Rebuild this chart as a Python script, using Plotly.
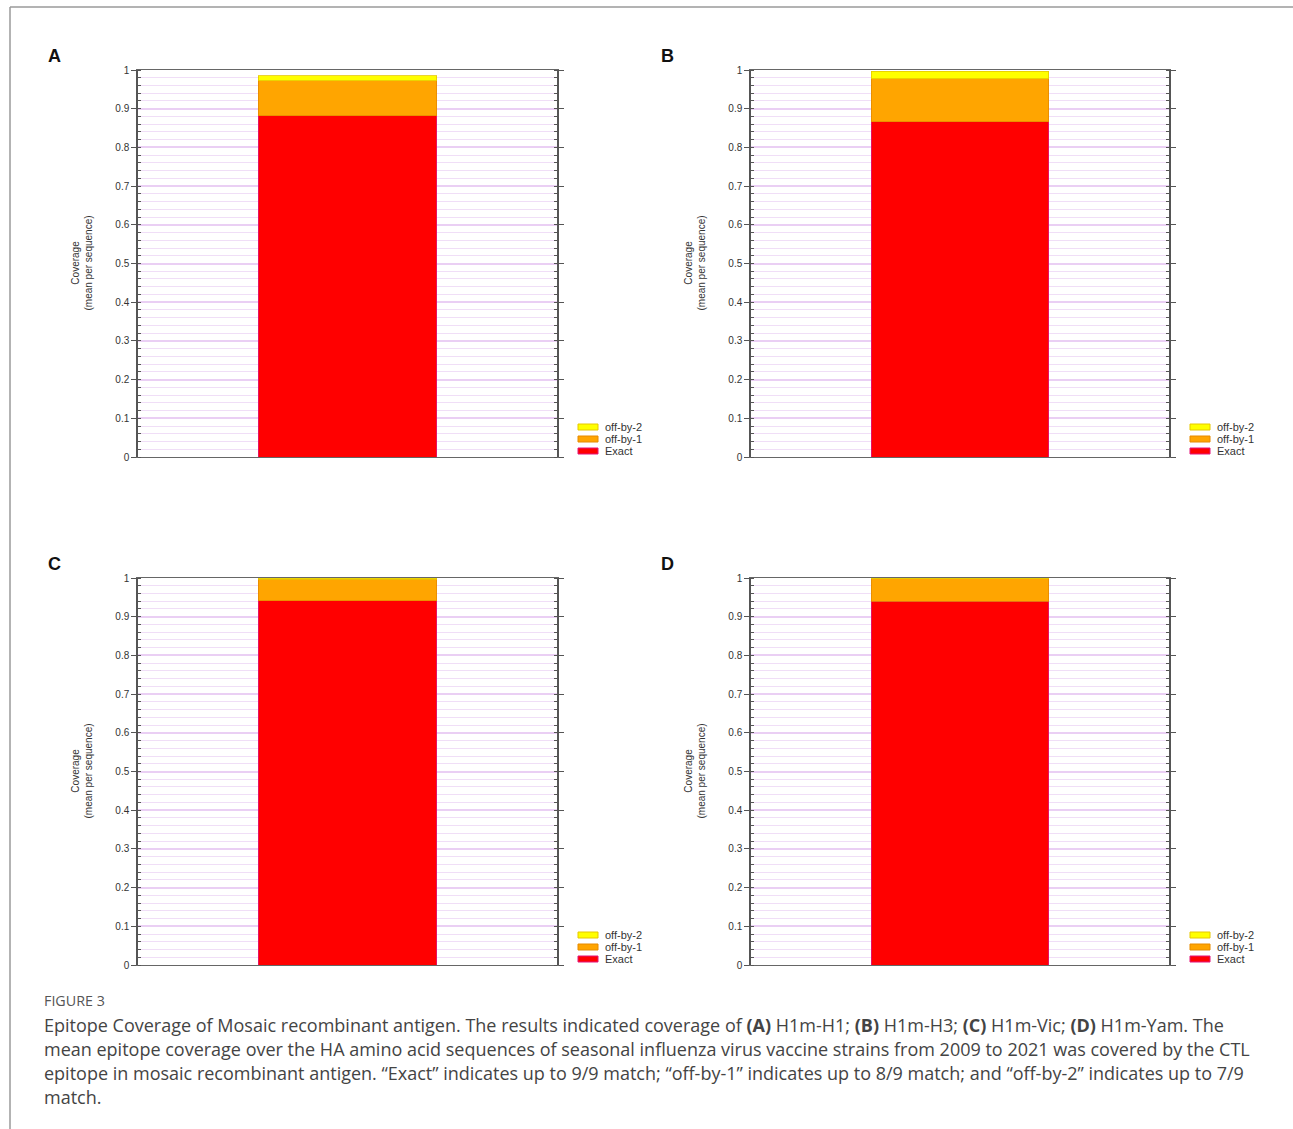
import plotly.graph_objects as go

W, H = 1293, 1129

panels = ["A", "B", "C", "D"]
exact = [0.882, 0.866, 0.941, 0.940]
off_by_1 = [0.090, 0.112, 0.056, 0.058]
off_by_2 = [0.013, 0.019, 0.003, 0.002]
series_names = ["Exact", "off-by-1", "off-by-2"]
series_colors = ["#ff0000", "#ffa500", "#ffff00"]
series_edges = ["#e2157a", "#e68a00", "#e6c800"]
y_ticks = [0, 0.1, 0.2, 0.3, 0.4, 0.5, 0.6, 0.7, 0.8, 0.9, 1]
y_ticklabels = ["0", "0.1", "0.2", "0.3", "0.4", "0.5", "0.6", "0.7", "0.8", "0.9", "1"]

# pixel layout of plot areas (left, right, top, bottom)
px_boxes = [(138, 557, 70, 457), (751, 1169, 70, 457),
            (138, 557, 578, 965), (751, 1169, 578, 965)]

def px(x):
    return x / W

def py(y):
    return 1 - y / H

fig = go.Figure()
layout = dict(width=W, height=H, autosize=False, margin=dict(l=0, r=0, t=0, b=0, pad=0, autoexpand=False),
              paper_bgcolor="white", plot_bgcolor="white", barmode="stack",
              showlegend=False, font=dict(family="Liberation Sans, Arial", color="#333"))
annotations = []
shapes = []

for i, p in enumerate(panels):
    l, r, t, b = px_boxes[i]
    xa = "x" if i == 0 else f"x{i+1}"
    ya = "y" if i == 0 else f"y{i+1}"
    vals = [exact[i], off_by_1[i], off_by_2[i]]
    for name, v, c, e in zip(series_names, vals, series_colors, series_edges):
        fig.add_trace(go.Bar(x=[0.5], y=[v], width=0.425, name=name,
                             marker=dict(color=c, line=dict(color=e, width=0.8)),
                             xaxis=xa, yaxis=ya, showlegend=False))
    key = "" if i == 0 else str(i + 1)
    layout["xaxis" + key] = dict(domain=[px(l), px(r)], range=[0, 1], anchor=ya,
                                 automargin=False,
                                 showgrid=False, zeroline=False, showticklabels=False,
                                 ticks="", showline=True, linecolor="#666", linewidth=1.2,
                                 mirror=True)
    layout["yaxis" + key] = dict(domain=[py(b), py(t)], range=[0, 1], anchor=xa,
                                 automargin=False,
                                 tickvals=y_ticks, ticktext=y_ticklabels,
                                 tickfont=dict(size=10, color="#333"),
                                 ticks="outside", ticklen=5, tickcolor="#555", tickwidth=1,
                                 showline=True, linecolor="#555", linewidth=1.5,
                                 mirror="ticks", zeroline=False,
                                 showgrid=True, gridcolor="#eacff4", gridwidth=1.5,
                                 minor=dict(dtick=0.02, showgrid=True, gridcolor="#f0def7",
                                            gridwidth=1.3,
                                            ticks="inside", ticklen=3, tickcolor="#555"))
    # y axis title
    annotations.append(dict(text="Coverage<br>(mean per sequence)", x=px(l - 57),
                            y=(py(b) + py(t)) / 2, xref="paper", yref="paper",
                            xanchor="center", yanchor="middle",
                            textangle=-90, showarrow=False,
                            font=dict(size=10, color="#333")))
    # panel letter
    annotations.append(dict(text=f"<b>{p}</b>", x=px(l - 84), y=py(t - 14),
                            xref="paper", yref="paper", showarrow=False,
                            xanchor="center", yanchor="middle",
                            font=dict(size=18, color="#111", family="Liberation Sans, Arial")))
    # legend
    leg_items = list(zip(series_names, series_colors, series_edges))[::-1]
    for k, (name, c, e) in enumerate(leg_items):
        yc = b - 30 + 12 * k
        shapes.append(dict(type="rect", xref="paper", yref="paper",
                           x0=px(r + 21), x1=px(r + 41), y0=py(yc + 3), y1=py(yc - 3),
                           fillcolor=c, line=dict(color=e, width=1)))
        annotations.append(dict(text=name, x=px(r + 46), y=py(yc), xref="paper", yref="paper",
                                xanchor="left", yanchor="middle", showarrow=False,
                                font=dict(size=11, color="#333")))

# figure frame
shapes.append(dict(type="line", xref="paper", yref="paper", x0=px(10), x1=1, y0=py(7), y1=py(7),
                   line=dict(color="#9a9a9a", width=1.5)))
shapes.append(dict(type="line", xref="paper", yref="paper", x0=px(10), x1=px(10), y0=py(7), y1=0,
                   line=dict(color="#9a9a9a", width=1.5)))

cap_font = "Open Sans, Noto Sans, sans-serif"
annotations.append(dict(text="FIGURE 3", x=px(42), y=py(1000), xref="paper", yref="paper",
                        xanchor="left", yanchor="middle", showarrow=False,
                        font=dict(size=14.3, color="#555", family=cap_font)))
caption_lines = [
    "Epitope Coverage of Mosaic recombinant antigen. The results indicated coverage of <b>(A)</b> H1m-H1; <b>(B)</b> H1m-H3; <b>(C)</b> H1m-Vic; <b>(D)</b> H1m-Yam. The",
    "mean epitope coverage over the HA amino acid sequences of seasonal influenza virus vaccine strains from 2009 to 2021 was covered by the CTL",
    "epitope in mosaic recombinant antigen. \u201cExact\u201d indicates up to 9/9 match; \u201coff-by-1\u201d indicates up to 8/9 match; and \u201coff-by-2\u201d indicates up to 7/9",
    "match.",
]
for j, line in enumerate(caption_lines):
    annotations.append(dict(text=line, x=px(42), y=py(1025 + 24 * j), xref="paper", yref="paper",
                            xanchor="left", yanchor="middle", showarrow=False,
                            font=dict(size=18.0, color="#444", family=cap_font)))

layout["annotations"] = annotations
layout["shapes"] = shapes
fig.update_layout(**layout)
fig.write_html("out.html", config={"displayModeBar": False},
               post_script="document.body.style.margin='0';document.body.style.overflow='hidden';")
